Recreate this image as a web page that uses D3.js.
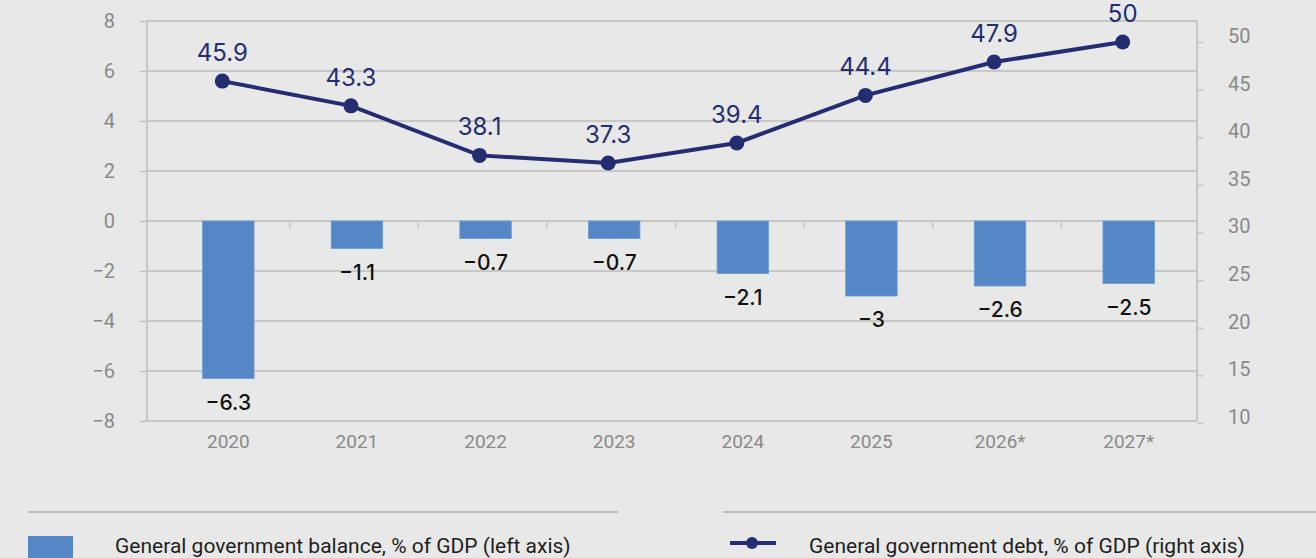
<!DOCTYPE html>
<html>
<head>
<meta charset="utf-8">
<script src="https://cdn.jsdelivr.net/npm/d3@7"></script>
<style>
  body { margin: 0; background: #e8e8e8; }
  svg { display: block; font-family: Roboto, "Liberation Sans", sans-serif; }
</style>
</head>
<body>
<div id="chart"></div>
<script>
const years = ["2020", "2021", "2022", "2023", "2024", "2025", "2026*", "2027*"];
const balance = [-6.3, -1.1, -0.7, -0.7, -2.1, -3, -2.6, -2.5];
const debt = [45.9, 43.3, 38.1, 37.3, 39.4, 44.4, 47.9, 50];
const leftTicks = [-8, -6, -4, -2, 0, 2, 4, 6, 8];
const rightTicks = [10, 15, 20, 25, 30, 35, 40, 45, 50];
const legendLabels = ["General government balance, % of GDP (left axis)",
                      "General government debt, % of GDP (right axis)"];

const W = 1316, H = 558;
const plotL = 147, plotR = 1197, plotT = 21, plotB = 421;
const barColor = "#5587c6", lineColor = "#232e72", gridColor = "#bdbdbd", axisGrey = "#8a8a8a";

const svg = d3.select("#chart").append("svg")
  .attr("width", W).attr("height", H);

svg.append("rect").attr("width", W).attr("height", H).attr("fill", "#e8e8e8");

const x = d3.scaleBand()
  .domain(years)
  .range([164, 1193])
  .paddingInner(0.6)
  .paddingOuter(0.3);

const yL = d3.scaleLinear().domain([-8, 8]).range([plotB, plotT]);
const yR = d3.scaleLinear().domain([10, 52]).range([423, 23]);

// gridlines + left labels
const leftAxis = svg.append("g")
  .attr("transform", `translate(${plotL},0)`)
  .call(d3.axisLeft(yL).tickValues(leftTicks).tickSize(7).tickPadding(25));
leftAxis.select(".domain").remove();
leftAxis.selectAll(".tick line").attr("stroke", gridColor).attr("stroke-width", 1.3);
leftAxis.selectAll(".tick text")
  .attr("fill", axisGrey).attr("font-size", 20).attr("font-family", "Roboto, sans-serif");

svg.append("g").selectAll("line")
  .data(leftTicks)
  .join("line")
  .attr("x1", plotL).attr("x2", plotR)
  .attr("y1", d => yL(d)).attr("y2", d => yL(d))
  .attr("stroke", gridColor).attr("stroke-width", 1.3);

// right axis
const rightAxis = svg.append("g")
  .attr("transform", `translate(${plotR},0)`)
  .call(d3.axisRight(yR).tickValues(rightTicks).tickSize(6).tickPadding(25));
rightAxis.select(".domain").remove();
rightAxis.selectAll(".tick line").attr("stroke", "#c4c4c4").attr("stroke-width", 1.5);
rightAxis.selectAll(".tick text")
  .attr("fill", axisGrey).attr("font-size", 20).attr("font-family", "Roboto, sans-serif")
  .attr("y", -6);

// vertical axis lines
svg.append("line").attr("x1", plotL).attr("x2", plotL).attr("y1", plotT).attr("y2", plotB)
  .attr("stroke", "#c6c6c6").attr("stroke-width", 2);
svg.append("line").attr("x1", plotR).attr("x2", plotR).attr("y1", plotT).attr("y2", plotB)
  .attr("stroke", "#c6c6c6").attr("stroke-width", 2);

// category separator ticks on zero line
svg.append("g").selectAll("line")
  .data(years.slice(1))
  .join("line")
  .attr("x1", d => x(d) - x.step() * x.paddingInner() / 2 - 3)
  .attr("x2", d => x(d) - x.step() * x.paddingInner() / 2 - 3)
  .attr("y1", yL(0)).attr("y2", yL(0) + 8)
  .attr("stroke", "#c6c6c6").attr("stroke-width", 1.3);

// x labels
svg.append("g").selectAll("text")
  .data(years)
  .join("text")
  .attr("x", d => x(d) + x.bandwidth() / 2)
  .attr("y", 448)
  .attr("text-anchor", "middle")
  .attr("font-size", 19)
  .attr("fill", axisGrey)
  .text(d => d);

// bars
svg.append("g").selectAll("rect")
  .data(balance)
  .join("rect")
  .attr("x", (d, i) => x(years[i]))
  .attr("y", d => yL(Math.max(0, d)))
  .attr("width", x.bandwidth())
  .attr("height", d => Math.abs(yL(d) - yL(0)))
  .attr("fill", barColor)
  .attr("stroke", "#6c9bd3")
  .attr("stroke-width", 0.8);

svg.append("g").selectAll("text")
  .data(balance)
  .join("text")
  .attr("x", (d, i) => x(years[i]) + x.bandwidth() / 2)
  .attr("y", d => yL(d) + 31)
  .attr("text-anchor", "middle")
  .attr("font-family", "Inter, sans-serif")
  .attr("font-weight", 500)
  .attr("font-size", 21)
  .attr("fill", "#111")
  .text(d => d3.format("")(d).replace("-", "\u2212"));

// debt line
const cx = (d, i) => x(years[i]) + x.bandwidth() / 2 - 6;
const line = d3.line()
  .x(cx)
  .y(d => yR(d));

svg.append("path")
  .datum(debt)
  .attr("fill", "none")
  .attr("stroke", lineColor)
  .attr("stroke-width", 4)
  .attr("d", line);

svg.append("g").selectAll("circle")
  .data(debt)
  .join("circle")
  .attr("cx", cx)
  .attr("cy", d => yR(d))
  .attr("r", 7.5)
  .attr("fill", lineColor);

svg.append("g").selectAll("text")
  .data(debt)
  .join("text")
  .attr("x", cx)
  .attr("y", d => yR(d) - 20)
  .attr("text-anchor", "middle")
  .attr("font-family", "Inter, sans-serif")
  .attr("font-size", 24)
  .attr("fill", lineColor)
  .text(d => d);

// legend
const lg = svg.append("g");
lg.append("line").attr("x1", 28).attr("x2", 618).attr("y1", 512).attr("y2", 512)
  .attr("stroke", "#bdbdbd").attr("stroke-width", 2);
lg.append("line").attr("x1", 723).attr("x2", 1316).attr("y1", 512).attr("y2", 512)
  .attr("stroke", "#bdbdbd").attr("stroke-width", 2);
lg.append("rect").attr("x", 28).attr("y", 536).attr("width", 45).attr("height", 24)
  .attr("fill", barColor);
lg.append("text").attr("x", 115).attr("y", 553)
  .attr("font-size", 21).attr("fill", "#1e1e1e").text(legendLabels[0]);
lg.append("line").attr("x1", 730).attr("x2", 776).attr("y1", 543).attr("y2", 543)
  .attr("stroke", lineColor).attr("stroke-width", 4);
lg.append("circle").attr("cx", 752).attr("cy", 543).attr("r", 6).attr("fill", lineColor);
lg.append("text").attr("x", 809).attr("y", 553)
  .attr("font-size", 21).attr("fill", "#1e1e1e").text(legendLabels[1]);
</script>
</body>
</html>
